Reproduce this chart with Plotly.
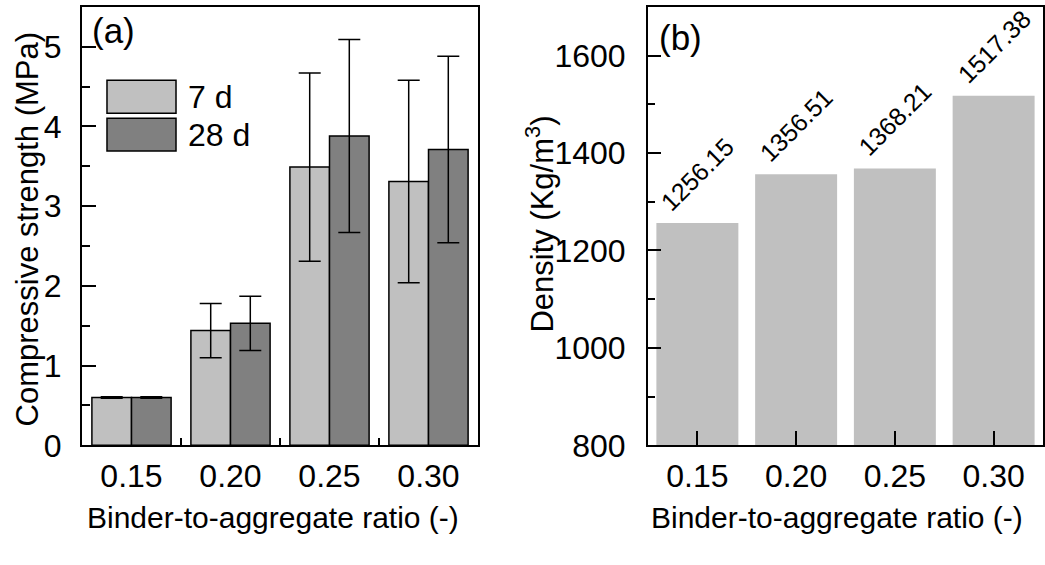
import plotly.graph_objects as go

# ---- data ----
ratios = ["0.15", "0.20", "0.25", "0.30"]
strength_7d = [0.60, 1.44, 3.49, 3.31]
strength_7d_err = [0.01, 0.34, 1.18, 1.27]
strength_28d = [0.60, 1.53, 3.88, 3.71]
strength_28d_err = [0.01, 0.34, 1.21, 1.17]
density = [1256.15, 1356.51, 1368.21, 1517.38]
density_labels = ["1256.15", "1356.51", "1368.21", "1517.38"]

FONT = "Arial, Liberation Sans, sans-serif"
LIGHT = "#C0C0C0"
DARK = "#808080"

fig = go.Figure()

fig.add_trace(go.Bar(
    x=ratios, y=strength_7d, name="7 d", xaxis="x", yaxis="y",
    marker=dict(color=LIGHT, line=dict(color="black", width=1.5)),
    error_y=dict(type="data", array=strength_7d_err, color="black", thickness=1.5, width=11),
    showlegend=False,
))
fig.add_trace(go.Bar(
    x=ratios, y=strength_28d, name="28 d", xaxis="x", yaxis="y",
    marker=dict(color=DARK, line=dict(color="black", width=1.5)),
    error_y=dict(type="data", array=strength_28d_err, color="black", thickness=1.5, width=11),
    showlegend=False,
))
fig.add_trace(go.Bar(
    x=ratios, y=density, xaxis="x2", yaxis="y2", width=0.83,
    marker=dict(color=LIGHT, line=dict(width=0)),
    showlegend=False,
))

W, H = 1045, 565
lx0, lx1 = 82, 478
rx0, rx1 = 648, 1043
ytop, ybot = 7, 460

def fx(px):
    return px / W

def fy(py):
    return (H - py) / H

axis_common = dict(
    showline=True, linecolor="black", linewidth=2, mirror=True,
    ticks="inside", tickcolor="black", tickwidth=1.5,
    showgrid=False, zeroline=False,
    tickfont=dict(family=FONT, size=32, color="black"),
)

fig.update_layout(
    width=W, height=H,
    margin=dict(l=0, r=0, t=0, b=0),
    paper_bgcolor="white", plot_bgcolor="white",
    barmode="group", bargap=0.2, bargroupgap=0,
    font=dict(family=FONT, color="black"),
    xaxis=dict(domain=[fx(lx0), fx(lx1)], anchor="y", type="category",
               tickson="boundaries", ticklen=7, ticklabelstandoff=1, **axis_common),
    yaxis=dict(domain=[fy(ybot), fy(ytop)], anchor="x", range=[0, 5.5],
               tickvals=[0, 1, 2, 3, 4, 5], ticklen=14, ticklabelstandoff=12,
               minor=dict(ticks="inside", ticklen=8, dtick=0.5, tickcolor="black", tickwidth=1.5),
               **axis_common),
    xaxis2=dict(domain=[fx(rx0), fx(rx1)], anchor="y2", type="category",
                ticklen=14, ticklabelstandoff=1, **axis_common),
    yaxis2=dict(domain=[fy(ybot), fy(ytop)], anchor="x2", range=[800, 1700],
                tickvals=[800, 1000, 1200, 1400, 1600], ticklen=13, ticklabelstandoff=14,
                minor=dict(ticks="inside", ticklen=7, dtick=100, tickcolor="black", tickwidth=1.5),
                **axis_common),
)

annotations = []
# value labels on density bars (category index positions)
for i, (v, lab) in enumerate(zip(density, density_labels)):
    annotations.append(dict(
        x=i, y=v, xref="x2", yref="y2", text=lab, showarrow=False,
        textangle=-45, xanchor="center", yanchor="middle", yshift=49,
        font=dict(family=FONT, size=25, color="black"),
    ))

# panel labels
annotations.append(dict(x=0.02, y=0.945, xref="x domain", yref="y domain", text="(a)",
                        showarrow=False, xanchor="left", yanchor="middle",
                        font=dict(family=FONT, size=35, color="black")))
annotations.append(dict(x=0.023, y=0.93, xref="x2 domain", yref="y2 domain", text="(b)",
                        showarrow=False, xanchor="left", yanchor="middle",
                        font=dict(family=FONT, size=35, color="black")))

# axis titles
annotations.append(dict(x=fx(27), y=fy(237), xref="paper", yref="paper",
                        text="Compressive strength (MPa)", textangle=-90, showarrow=False,
                        xanchor="center", yanchor="middle",
                        font=dict(family=FONT, size=31, color="black")))
annotations.append(dict(x=fx(540), y=fy(232), xref="paper", yref="paper",
                        text="Density (Kg/m<sup>3</sup>)", textangle=-90, showarrow=False,
                        xanchor="center", yanchor="middle",
                        font=dict(family=FONT, size=31, color="black")))
annotations.append(dict(x=fx(272.5), y=fy(535), xref="paper", yref="paper",
                        text="Binder-to-aggregate ratio (-)", showarrow=False,
                        xanchor="center", yanchor="middle",
                        font=dict(family=FONT, size=30, color="black")))
annotations.append(dict(x=fx(837), y=fy(535), xref="paper", yref="paper",
                        text="Binder-to-aggregate ratio (-)", showarrow=False,
                        xanchor="center", yanchor="middle",
                        font=dict(family=FONT, size=30, color="black")))

# legend (manual, large swatches)
legend_items = [("7 d", LIGHT, 0.8322, 0.7572), ("28 d", DARK, 0.7461, 0.6711)]
shapes = []
for label, col, y1, y0 in legend_items:
    shapes.append(dict(type="rect", xref="x domain", yref="y domain",
                       x0=0.0631, x1=0.2374, y0=y0, y1=y1,
                       fillcolor=col, line=dict(color="black", width=1.5)))
    annotations.append(dict(x=0.262, y=(y0 + y1) / 2, xref="x domain", yref="y domain",
                            text=label, showarrow=False, xanchor="left", yanchor="middle",
                            font=dict(family=FONT, size=32, color="black")))

fig.update_layout(annotations=annotations, shapes=shapes)

fig.write_html("out.html")
